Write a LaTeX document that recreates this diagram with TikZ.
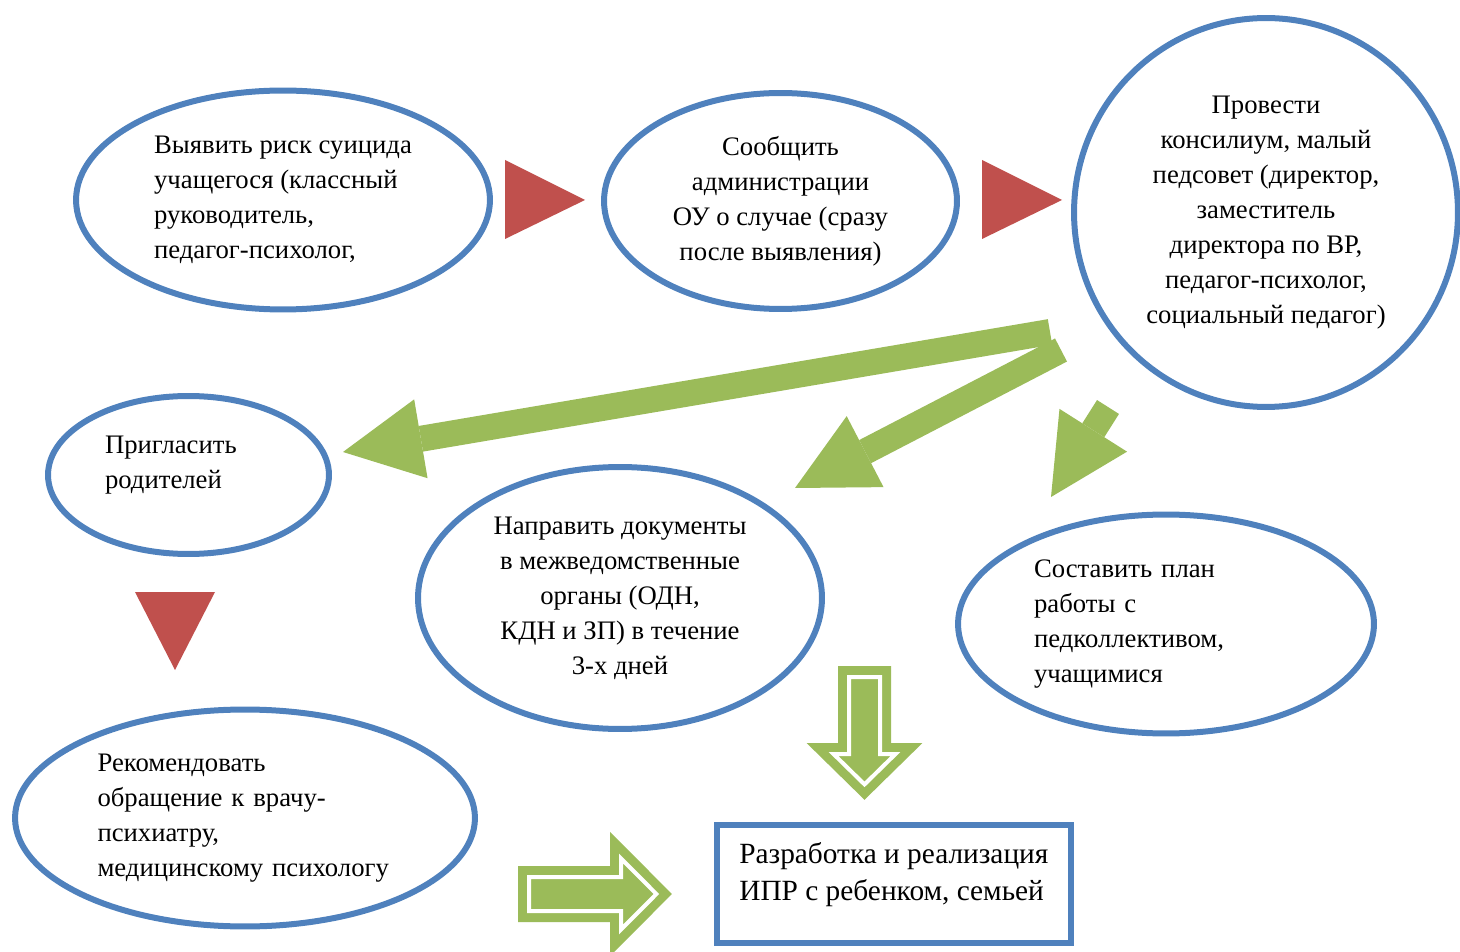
\documentclass[tikz,border=0pt]{standalone}
\usepackage{fontspec}
\setmainfont{Liberation Serif}
\usetikzlibrary{shapes.geometric,arrows.meta}
\definecolor{ovalblue}{HTML}{4F81BD}
\definecolor{stepred}{HTML}{C0504D}
\definecolor{arrgreen}{HTML}{9BBB59}

\begin{document}
\begin{tikzpicture}[x=0.02cm,y=-0.02cm,
  every node/.style={font=\fontsize{15.2}{19.9}\selectfont},
  oval/.style={ellipse,draw=ovalblue,line width=0.12cm,inner sep=0pt},
  iprbox/.style={rectangle,draw=ovalblue,line width=0.12cm,inner sep=0pt},
  redtri/.style={fill=stepred},
  bigarrow/.style={draw=arrgreen,line width=0.52cm,-{Triangle[length=1.58cm,width=1.6cm,line width=0pt]}},
  hollow/.style={fill=arrgreen,draw=arrgreen,line width=0.18cm,double=white,double distance=0.08cm}]
\useasboundingbox (0,0) rectangle (1460,952);

\node[oval,minimum width=8.28cm,minimum height=4.38cm,align=left] (risk) at (283,200)
  {Выявить риск суицида\\учащегося (классный\\руководитель,\\педагог-психолог,};
\node[oval,minimum width=7.06cm,minimum height=4.32cm,align=center] (admin) at (780.5,201)
  {Сообщить\\администрации\\ОУ о случае (сразу\\после выявления)};
\node[oval,minimum width=7.68cm,minimum height=7.78cm,align=center] (council) at (1266,212.5)
  {Провести\\консилиум, малый\\педсовет (директор,\\заместитель\\директора по ВР,\\педагог-психолог,\\социальный педагог)};
\node[oval,minimum width=5.62cm,minimum height=3.16cm,text width=3.34cm,align=left,text depth=1.2cm] (parents) at (188.5,475)
  {Пригласить\\родителей};
\node[oval,minimum width=8.08cm,minimum height=5.24cm,align=center] (docs) at (620,598)
  {Направить документы\\в межведомственные\\органы (ОДН,\\КДН и ЗП) в течение\\3-х дней};
\node[oval,minimum width=8.32cm,minimum height=4.38cm,text width=5.28cm,align=left] (plan) at (1166,624)
  {Составить план\\работы с\\педколлективом,\\учащимися};
\node[oval,minimum width=9.2cm,minimum height=4.34cm,text width=5.9cm,align=left] (doctor) at (245,818)
  {Рекомендовать\\обращение к врачу-\\психиатру,\\медицинскому психологу};
\node[iprbox,minimum width=7.08cm,minimum height=2.36cm] (ipr) at (894,884) {};
\node[anchor=north west,align=left,inner sep=0pt,font=\fontsize{16.7}{21}\selectfont] (ipr text) at (739,842)
  {Разработка и реализация\\ИПР с ребенком, семьей};

\fill[redtri] (505,160) -- (585,200) -- (505,239) -- cycle;
\fill[redtri] (982,160) -- (1062,200) -- (982,239) -- cycle;
\fill[redtri] (135,592) -- (215,592) -- (175,670) -- cycle;

\coordinate (from parents) at (1050,332);
\coordinate (from docs) at (1061,350);
\coordinate (from plan) at (1108,407);
\coordinate (to parents) at (343,452);
\coordinate (to docs) at (795,488);
\coordinate (to plan) at (1051,497);
\draw[bigarrow] (from parents) -- (to parents);
\draw[bigarrow] (from docs) -- (to docs);
\draw[bigarrow] (from plan) -- (to plan);

\filldraw[hollow] (849,677) -- (880,677) -- (880,754) -- (895.5,754) -- (864.5,784.4) -- (833.5,754) -- (849,754) -- cycle;
\filldraw[hollow] (529,877) -- (621,877) -- (621,858.5) -- (656.4,894) -- (621,929.5) -- (621,911) -- (529,911) -- cycle;
\end{tikzpicture}
\end{document}
